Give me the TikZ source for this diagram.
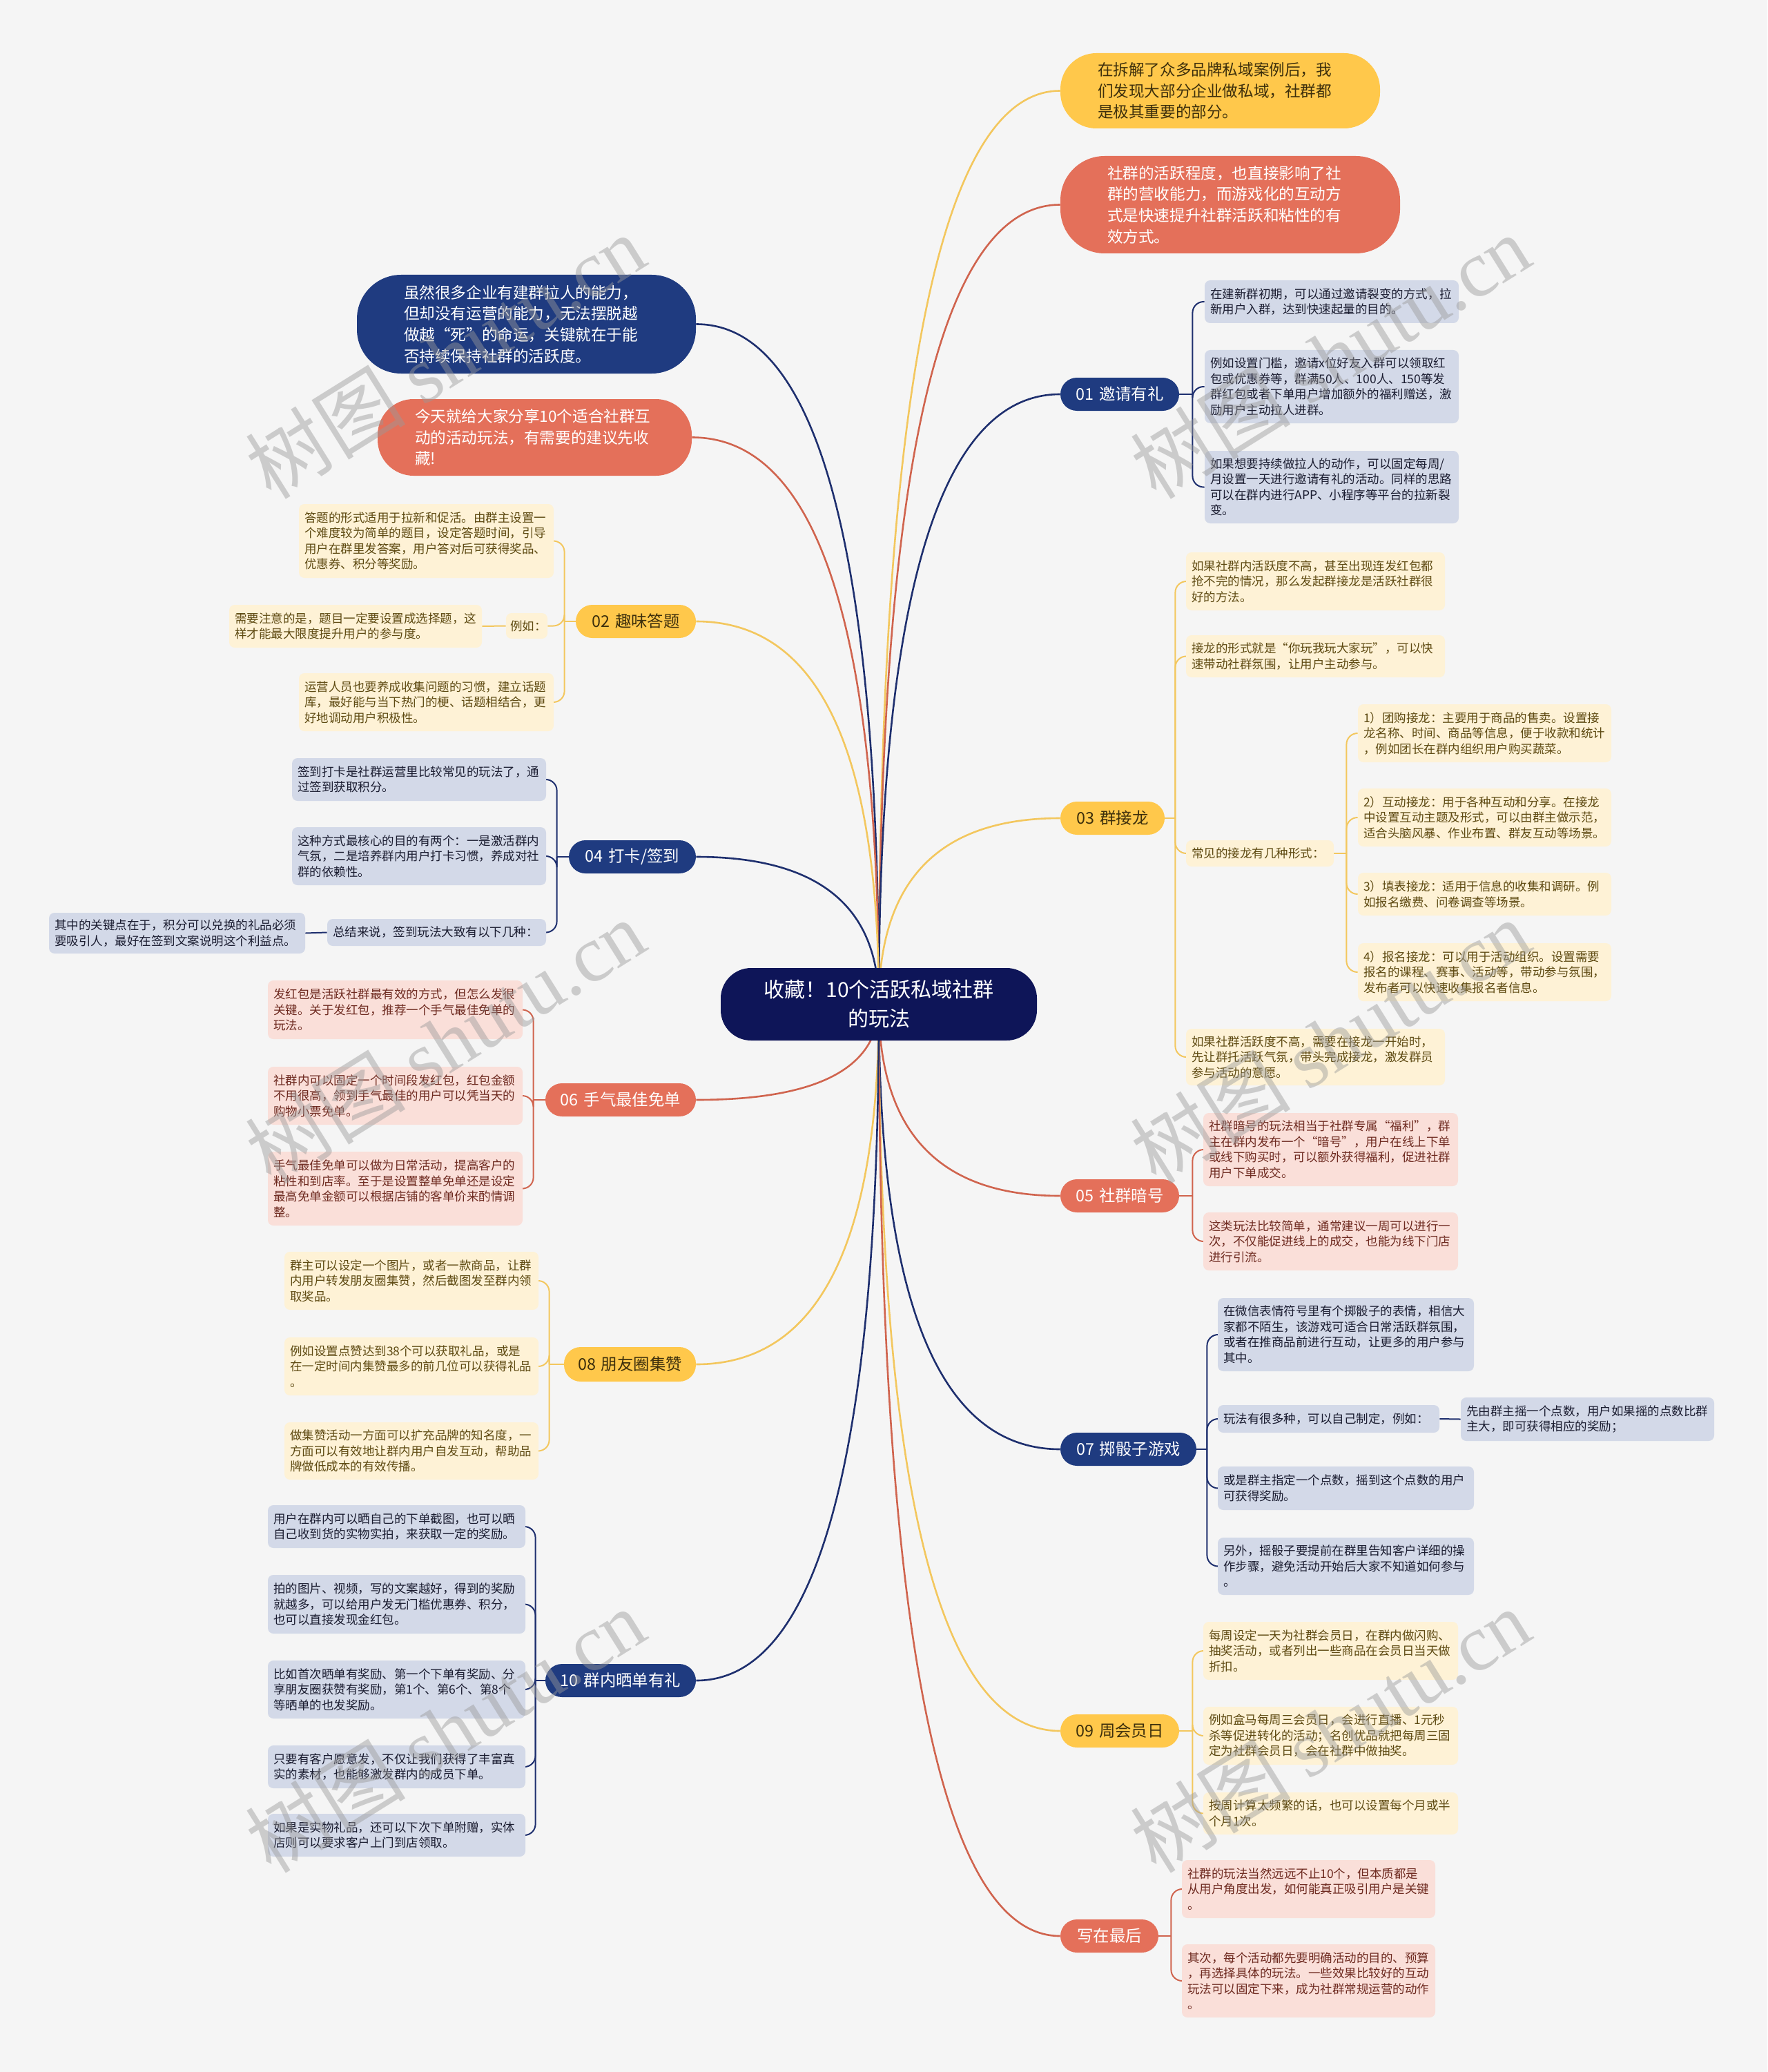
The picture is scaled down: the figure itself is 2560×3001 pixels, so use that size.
\documentclass[tikz,border=0pt]{standalone}
\usepackage{fontspec}
\setmainfont{Noto Sans CJK SC}
\newfontfamily\wmserif{Liberation Serif}
\usetikzlibrary{calc}
\definecolor{bgc}{HTML}{F5F5F5}
\definecolor{ctrc}{HTML}{0E1558}
\definecolor{navyc}{HTML}{1F3B80}
\definecolor{yelc}{HTML}{FFC84B}
\definecolor{rdc}{HTML}{E4705A}
\definecolor{navyL}{HTML}{D3D9E8}
\definecolor{yelL}{HTML}{FEF2D6}
\definecolor{rdL}{HTML}{FADFD9}
\definecolor{navyT}{HTML}{1A1C30}
\definecolor{yelT}{HTML}{5E4A12}
\definecolor{rdT}{HTML}{6E2A20}
\definecolor{pillT}{HTML}{3D2F0C}
\definecolor{navyLine}{HTML}{1E2F6E}
\definecolor{yelLine}{HTML}{F3C75E}
\definecolor{rdLine}{HTML}{D0644E}
\definecolor{wmc}{HTML}{9A9A9A}
\pgfdeclarelayer{back}\pgfdeclarelayer{bg}\pgfdeclarelayer{fore}
\pgfsetlayers{back,bg,main,fore}
% #1 pad, #2 name, #3 style, #4 x1, #5 y1, #6 x2, #7 y2, #8 text
\newcommand\bx[8][4]{%
 \pgfmathsetmacro\mybw{(#6-#4)*0.5}%
 \pgfmathsetmacro\mybh{(#7-#5)*0.5}%
 \pgfmathsetmacro\mytw{(#6-#4)*0.5-2*#1}%
 \node[#3, inner xsep=#1pt, inner ysep=2pt, minimum width=\mybw pt, minimum height=\mybh pt, text width=\mytw pt] (#2) at ({(#4+#6)/2},{(#5+#7)/2}) {#8};}
\newcommand\mlink[2]{\draw[mainline,#1] (ctr.center) .. controls ($(ctr.center)!0.667!(ctr.center|-#2)$) and ($(#2)!0.667!(ctr.center|-#2)$) .. (#2);}
\newcommand\brR[3]{\draw[brk,#1] (#2) |- (#3.west);}
\newcommand\brL[3]{\draw[brk,#1] (#2) |- (#3.east);}
\tikzset{
 leafbase/.style={rounded corners=4pt, align=left, font=\fontsize{8.75}{11.25}\selectfont},
 navyleaf/.style={leafbase, fill=navyL, text=navyT},
 yelleaf/.style={leafbase, fill=yelL, text=yelT},
 redleaf/.style={leafbase, fill=rdL, text=rdT},
 pillbase/.style={rounded corners=12pt, align=center, font=\fontsize{11.7}{14}\selectfont},
 navypill/.style={pillbase, fill=navyc, text=white},
 yelpill/.style={pillbase, fill=yelc, text=pillT},
 redpill/.style={pillbase, fill=rdc, text=white},
 bigbase/.style={align=left, font=\fontsize{11.3}{15.3}\selectfont},
 mainline/.style={line width=1.3pt},
 brk/.style={line width=1pt, rounded corners=8pt},
 wm/.style={rotate=32, text=wmc, opacity=0.45, font=\fontsize{58}{60}\selectfont},
}
\begin{document}
\begin{tikzpicture}[x=0.5pt,y=-0.5pt]
\useasboundingbox (0,0) rectangle (2560,3001);
\begin{pgfonlayer}{back}
\fill[bgc] (0,0) rectangle (2560,3001);
\end{pgfonlayer}

% center
\bx[4]{ctr}{fill=ctrc, text=white, rounded corners=22pt, align=center, font=\fontsize{15}{21}\selectfont}{1044}{1402}{1502}{1507}{收藏！10个活跃私域社群\\的玩法}

% big nodes
\bx[27]{try}{bigbase, fill=yelc, text=pillT, rounded corners=26pt}{1536}{77}{1999}{186}{在拆解了众多品牌私域案例后，我\\们发现大部分企业做私域，社群都\\是极其重要的部分。}
\bx[34]{trr}{bigbase, fill=rdc, text=white, rounded corners=32pt}{1536}{226}{2028}{367}{社群的活跃程度，也直接影响了社\\群的营收能力，而游戏化的互动方\\式是快速提升社群活跃和粘性的有\\效方式。}
\bx[34]{tln}{bigbase, fill=navyc, text=white, rounded corners=32pt}{517}{398}{1008}{541}{虽然很多企业有建群拉人的能力，\\但却没有运营的能力，无法摆脱越\\做越“死”的命运，关键就在于能\\否持续保持社群的活跃度。}
\bx[27]{tlo}{bigbase, fill=rdc, text=white, rounded corners=26pt}{547}{578}{1002}{689}{今天就给大家分享10个适合社群互\\动的活动玩法，有需要的建议先收\\藏!}

% branch pills
\bx[6]{n01}{navypill}{1536}{547}{1708}{595}{01 邀请有礼}
\bx[6]{n03}{yelpill}{1536}{1161}{1687}{1209}{03 群接龙}
\bx[6]{n05}{redpill}{1536}{1708}{1708}{1756}{05 社群暗号}
\bx[6]{n07}{navypill}{1536}{2075}{1733}{2123}{07 掷骰子游戏}
\bx[6]{n09}{yelpill}{1536}{2483}{1708}{2531}{09 周会员日}
\bx[6]{nfin}{redpill}{1536}{2780}{1678}{2828}{写在最后}
\bx[6]{n02}{yelpill}{834}{876}{1008}{924}{02 趣味答题}
\bx[6]{n04}{navypill}{824}{1217}{1008}{1265}{04 打卡/签到}
\bx[6]{n06}{redpill}{790}{1569}{1008}{1617}{06 手气最佳免单}
\bx[6]{n08}{yelpill}{817}{1951}{1008}{2001}{08 朋友圈集赞}
\bx[6]{n10}{navypill}{790}{2410}{1008}{2458}{10 群内晒单有礼}

% 01 leaves
\bx{L01a}{navyleaf}{1745}{406}{2113}{468}{在建新群初期，可以通过邀请裂变的方式，拉\\新用户入群，达到快速起量的目的。}
\bx{L01b}{navyleaf}{1745}{507}{2113}{613}{例如设置门槛，邀请x位好友入群可以领取红\\包或优惠券等，群满50人、100人、150等发\\群红包或者下单用户增加额外的福利赠送，激\\励用户主动拉人进群。}
\bx{L01c}{navyleaf}{1745}{653}{2113}{758}{如果想要持续做拉人的动作，可以固定每周/\\月设置一天进行邀请有礼的活动。同样的思路\\可以在群内进行APP、小程序等平台的拉新裂\\变。}

% 03 leaves
\bx{L03a}{yelleaf}{1718}{800}{2093}{884}{如果社群内活跃度不高，甚至出现连发红包都\\抢不完的情况，那么发起群接龙是活跃社群很\\好的方法。}
\bx{L03b}{yelleaf}{1718}{920}{2093}{981}{接龙的形式就是“你玩我玩大家玩”，可以快\\速带动社群氛围，让用户主动参与。}
\bx{L03c}{yelleaf}{1718}{1217}{1932}{1255}{常见的接龙有几种形式：}
\bx{S1}{yelleaf}{1967}{1020}{2334}{1104}{1）团购接龙：主要用于商品的售卖。设置接\\龙名称、时间、商品等信息，便于收款和统计\\，例如团长在群内组织用户购买蔬菜。}
\bx{S2}{yelleaf}{1967}{1142}{2334}{1226}{2）互动接龙：用于各种互动和分享。在接龙\\中设置互动主题及形式，可以由群主做示范，\\适合头脑风暴、作业布置、群友互动等场景。}
\bx{S3}{yelleaf}{1967}{1264}{2334}{1326}{3）填表接龙：适用于信息的收集和调研。例\\如报名缴费、问卷调查等场景。}
\bx{S4}{yelleaf}{1967}{1366}{2334}{1450}{4）报名接龙：可以用于活动组织。设置需要\\报名的课程、赛事、活动等，带动参与氛围，\\发布者可以快速收集报名者信息。}
\bx{L03d}{yelleaf}{1718}{1490}{2093}{1572}{如果社群活跃度不高，需要在接龙一开始时，\\先让群托活跃气氛，带头完成接龙，激发群员\\参与活动的意愿。}

% 05 leaves
\bx{L05a}{redleaf}{1743}{1612}{2112}{1718}{社群暗号的玩法相当于社群专属“福利”，群\\主在群内发布一个“暗号”，用户在线上下单\\或线下购买时，可以额外获得福利，促进社群\\用户下单成交。}
\bx{L05b}{redleaf}{1743}{1756}{2112}{1840}{这类玩法比较简单，通常建议一周可以进行一\\次，不仅能促进线上的成交，也能为线下门店\\进行引流。}

% 07 leaves
\bx{L07a}{navyleaf}{1764}{1880}{2135}{1986}{在微信表情符号里有个掷骰子的表情，相信大\\家都不陌生，该游戏可适合日常活跃群氛围，\\或者在推商品前进行互动，让更多的用户参与\\其中。}
\bx{L07b}{navyleaf}{1764}{2035}{2085}{2075}{玩法有很多种，可以自己制定，例如：}
\bx{L07s}{navyleaf}{2116}{2024}{2483}{2087}{先由群主摇一个点数，用户如果摇的点数比群\\主大，即可获得相应的奖励；}
\bx{L07c}{navyleaf}{1764}{2124}{2135}{2187}{或是群主指定一个点数，摇到这个点数的用户\\可获得奖励。}
\bx{L07d}{navyleaf}{1764}{2227}{2135}{2310}{另外，摇骰子要提前在群里告知客户详细的操\\作步骤，避免活动开始后大家不知道如何参与\\。}

% 09 leaves
\bx{L09a}{yelleaf}{1743}{2349}{2112}{2433}{每周设定一天为社群会员日，在群内做闪购、\\抽奖活动，或者列出一些商品在会员日当天做\\折扣。}
\bx{L09b}{yelleaf}{1743}{2472}{2112}{2556}{例如盒马每周三会员日，会进行直播、1元秒\\杀等促进转化的活动；名创优品就把每周三固\\定为社群会员日，会在社群中做抽奖。}
\bx{L09c}{yelleaf}{1743}{2596}{2112}{2657}{按周计算太频繁的话，也可以设置每个月或半\\个月1次。}

% final leaves
\bx{Lfa}{redleaf}{1712}{2694}{2079}{2778}{社群的玩法当然远远不止10个，但本质都是\\从用户角度出发，如何能真正吸引用户是关键\\。}
\bx{Lfb}{redleaf}{1712}{2816}{2079}{2922}{其次，每个活动都先要明确活动的目的、预算\\，再选择具体的玩法。一些效果比较好的互动\\玩法可以固定下来，成为社群常规运营的动作\\。}

% 02 leaves
\bx{L02a}{yelleaf}{433}{730}{802}{837}{答题的形式适用于拉新和促活。由群主设置一\\个难度较为简单的题目，设定答题时间，引导\\用户在群里发答案，用户答对后可获得奖品、\\优惠券、积分等奖励。}
\bx[3]{L02e}{yelleaf}{733}{888}{793}{925}{例如：}
\bx{L02s}{yelleaf}{332}{876}{698}{938}{需要注意的是，题目一定要设置成选择题，这\\样才能最大限度提升用户的参与度。}
\bx{L02c}{yelleaf}{433}{975}{802}{1059}{运营人员也要养成收集问题的习惯，建立话题\\库，最好能与当下热门的梗、话题相结合，更\\好地调动用户积极性。}

% 04 leaves
\bx{L04a}{navyleaf}{423}{1098}{791}{1160}{签到打卡是社群运营里比较常见的玩法了，通\\过签到获取积分。}
\bx{L04b}{navyleaf}{423}{1198}{791}{1282}{这种方式最核心的目的有两个：一是激活群内\\气氛，二是培养群内用户打卡习惯，养成对社\\群的依赖性。}
\bx{L04c}{navyleaf}{474}{1331}{791}{1370}{总结来说，签到玩法大致有以下几种：}
\bx{L04s}{navyleaf}{71}{1322}{442}{1381}{其中的关键点在于，积分可以兑换的礼品必须\\要吸引人，最好在签到文案说明这个利益点。}

% 06 leaves
\bx{L06a}{redleaf}{388}{1420}{757}{1505}{发红包是活跃社群最有效的方式，但怎么发很\\关键。关于发红包，推荐一个手气最佳免单的\\玩法。}
\bx{L06b}{redleaf}{388}{1545}{757}{1629}{社群内可以固定一个时间段发红包，红包金额\\不用很高，领到手气最佳的用户可以凭当天的\\购物小票免单。}
\bx{L06c}{redleaf}{388}{1668}{757}{1775}{手气最佳免单可以做为日常活动，提高客户的\\粘性和到店率。至于是设置整单免单还是设定\\最高免单金额可以根据店铺的客单价来酌情调\\整。}

% 08 leaves
\bx{L08a}{yelleaf}{412}{1813}{780}{1897}{群主可以设定一个图片，或者一款商品，让群\\内用户转发朋友圈集赞，然后截图发至群内领\\取奖品。}
\bx{L08b}{yelleaf}{412}{1937}{780}{2021}{例如设置点赞达到38个可以获取礼品，或是\\在一定时间内集赞最多的前几位可以获得礼品\\。}
\bx{L08c}{yelleaf}{412}{2060}{780}{2143}{做集赞活动一方面可以扩充品牌的知名度，一\\方面可以有效地让群内用户自发互动，帮助品\\牌做低成本的有效传播。}

% 10 leaves
\bx{L10a}{navyleaf}{388}{2180}{761}{2242}{用户在群内可以晒自己的下单截图，也可以晒\\自己收到货的实物实拍，来获取一定的奖励。}
\bx{L10b}{navyleaf}{388}{2281}{761}{2366}{拍的图片、视频，写的文案越好，得到的奖励\\就越多，可以给用户发无门槛优惠券、积分，\\也可以直接发现金红包。}
\bx{L10c}{navyleaf}{388}{2405}{761}{2489}{比如首次晒单有奖励、第一个下单有奖励、分\\享朋友圈获赞有奖励，第1个、第6个、第8个\\等晒单的也发奖励。}
\bx{L10d}{navyleaf}{388}{2528}{761}{2590}{只要有客户愿意发，不仅让我们获得了丰富真\\实的素材，也能够激发群内的成员下单。}
\bx{L10e}{navyleaf}{388}{2627}{761}{2689}{如果是实物礼品，还可以下次下单附赠，实体\\店则可以要求客户上门到店领取。}

% bracket points
\coordinate (b01) at ($(n01.east)+(19,0)$);
\coordinate (b03) at ($(n03.east)+(15,0)$);
\coordinate (b03s) at ($(L03c.east)+(18,0)$);
\coordinate (b05) at ($(n05.east)+(19,0)$);
\coordinate (b07) at ($(n07.east)+(15,0)$);
\coordinate (b09) at ($(n09.east)+(19,0)$);
\coordinate (bfin) at ($(nfin.east)+(18,0)$);
\coordinate (b02) at ($(n02.west)+(-16,0)$);
\coordinate (b04) at ($(n04.west)+(-17,0)$);
\coordinate (b06) at ($(n06.west)+(-17,0)$);
\coordinate (b08) at ($(n08.west)+(-21,0)$);
\coordinate (b10) at ($(n10.west)+(-14,0)$);

\begin{pgfonlayer}{bg}
% main links
\mlink{yelLine}{try.west}
\mlink{rdLine}{trr.west}
\mlink{navyLine}{tln.east}
\mlink{rdLine}{tlo.east}
\mlink{navyLine}{n01.west}
\mlink{yelLine}{n03.west}
\mlink{rdLine}{n05.west}
\mlink{navyLine}{n07.west}
\mlink{yelLine}{n09.west}
\mlink{rdLine}{nfin.west}
\mlink{yelLine}{n02.east}
\mlink{navyLine}{n04.east}
\mlink{rdLine}{n06.east}
\mlink{yelLine}{n08.east}
\mlink{navyLine}{n10.east}
% 01
\draw[brk,navyLine] (n01.east) -- (b01);
\brR{navyLine}{b01}{L01a}\brR{navyLine}{b01}{L01b}\brR{navyLine}{b01}{L01c}
% 03
\draw[brk,yelLine] (n03.east) -- (b03);
\brR{yelLine}{b03}{L03a}\brR{yelLine}{b03}{L03b}\brR{yelLine}{b03}{L03c}\brR{yelLine}{b03}{L03d}
\draw[brk,yelLine] (L03c.east) -- (b03s);
\brR{yelLine}{b03s}{S1}\brR{yelLine}{b03s}{S2}\brR{yelLine}{b03s}{S3}\brR{yelLine}{b03s}{S4}
% 05
\draw[brk,rdLine] (n05.east) -- (b05);
\brR{rdLine}{b05}{L05a}\brR{rdLine}{b05}{L05b}
% 07
\draw[brk,navyLine] (n07.east) -- (b07);
\brR{navyLine}{b07}{L07a}\brR{navyLine}{b07}{L07b}\brR{navyLine}{b07}{L07c}\brR{navyLine}{b07}{L07d}
\draw[brk,navyLine] (L07b.east) -- (L07s.west);
% 09
\draw[brk,yelLine] (n09.east) -- (b09);
\brR{yelLine}{b09}{L09a}\brR{yelLine}{b09}{L09b}\brR{yelLine}{b09}{L09c}
% final
\draw[brk,rdLine] (nfin.east) -- (bfin);
\brR{rdLine}{bfin}{Lfa}\brR{rdLine}{bfin}{Lfb}
% 02
\draw[brk,yelLine] (n02.west) -- (b02);
\brL{yelLine}{b02}{L02a}\brL{yelLine}{b02}{L02e}\brL{yelLine}{b02}{L02c}
\draw[brk,yelLine] (L02e.west) -- (L02s.east);
% 04
\draw[brk,navyLine] (n04.west) -- (b04);
\brL{navyLine}{b04}{L04a}\brL{navyLine}{b04}{L04b}\brL{navyLine}{b04}{L04c}
\draw[brk,navyLine] (L04c.west) -- (L04s.east);
% 06
\draw[brk,rdLine] (n06.west) -- (b06);
\brL{rdLine}{b06}{L06a}\brL{rdLine}{b06}{L06b}\brL{rdLine}{b06}{L06c}
% 08
\draw[brk,yelLine] (n08.west) -- (b08);
\brL{yelLine}{b08}{L08a}\brL{yelLine}{b08}{L08b}\brL{yelLine}{b08}{L08c}
% 10
\draw[brk,navyLine] (n10.west) -- (b10);
\brL{navyLine}{b10}{L10a}\brL{navyLine}{b10}{L10b}\brL{navyLine}{b10}{L10c}\brL{navyLine}{b10}{L10d}\brL{navyLine}{b10}{L10e}
\end{pgfonlayer}

\begin{pgfonlayer}{fore}
\node[wm] (wm1) at (645,516) {树图 {\wmserif shutu.cn}};
\node[wm] (wm2) at (1927,516) {树图 {\wmserif shutu.cn}};
\node[wm] (wm3) at (645,1508) {树图 {\wmserif shutu.cn}};
\node[wm] (wm4) at (1927,1508) {树图 {\wmserif shutu.cn}};
\node[wm] (wm5) at (645,2506) {树图 {\wmserif shutu.cn}};
\node[wm] (wm6) at (1927,2506) {树图 {\wmserif shutu.cn}};
\end{pgfonlayer}
\end{tikzpicture}
\end{document}
